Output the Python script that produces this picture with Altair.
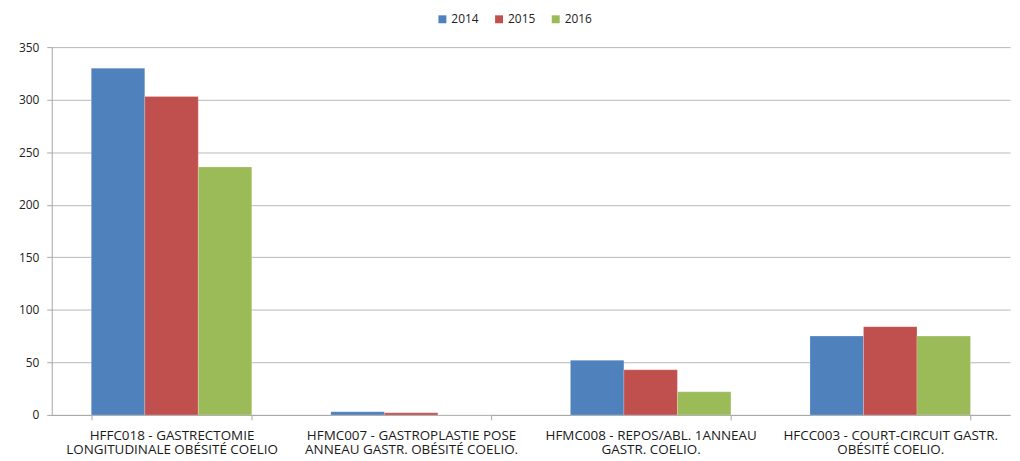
import altair as alt
import pandas as pd

categories = [
    "HFFC018 - GASTRECTOMIE\nLONGITUDINALE OBÉSITÉ COELIO",
    "HFMC007 - GASTROPLASTIE POSE\nANNEAU GASTR. OBÉSITÉ COELIO.",
    "HFMC008 - REPOS/ABL. 1ANNEAU\nGASTR. COELIO.",
    "HFCC003 - COURT-CIRCUIT GASTR.\nOBÉSITÉ COELIO.",
]
years = ["2014", "2015", "2016"]
v2014 = [330, 3, 52, 75]
v2015 = [303, 2, 43, 84]
v2016 = [236, 0, 22, 75]
colors = ["#4F81BD", "#C0504D", "#9BBB59"]

rows = []
for i, c in enumerate(categories):
    for y, vals in zip(years, [v2014, v2015, v2016]):
        rows.append({"cat": c, "year": y, "value": vals[i]})
df = pd.DataFrame(rows)

FONT = "Open Sans"

chart = alt.Chart(df).mark_bar(stroke="#ffffff", strokeOpacity=0.35, strokeWidth=0.6).encode(
    x=alt.X("cat:N", sort=categories, title=None,
            scale=alt.Scale(paddingInner=0.33, paddingOuter=0.165),
            axis=alt.Axis(labelAngle=0, labelExpr="split(datum.label, '\\n')",
                          labelFont=FONT, labelFontSize=13.5, labelColor="#1a1a1a",
                          labelLineHeight=14, labelPadding=9, labelLimit=0,
                          labelOverlap=False,
                          tickBand="extent", tickColor="#a6a6a6", tickSize=5,
                          domainColor="#a6a6a6", grid=False)),
    xOffset=alt.XOffset("year:N", sort=years),
    y=alt.Y("value:Q", title=None,
            scale=alt.Scale(domain=[0, 350], nice=False),
            axis=alt.Axis(values=[0, 50, 100, 150, 200, 250, 300, 350],
                          labelFont=FONT, labelFontSize=12, labelColor="#222222",
                          labelPadding=8, tickColor="#a6a6a6", tickSize=5,
                          domainColor="#a6a6a6", gridColor="#b8b8b8")),
    color=alt.Color("year:N", sort=years,
                    scale=alt.Scale(domain=years, range=colors),
                    legend=alt.Legend(title=None, orient="none", direction="horizontal",
                                      legendX=387, legendY=-34,
                                      symbolType="square", symbolSize=64,
                                      symbolStrokeWidth=0,
                                      labelFont=FONT, labelFontSize=12,
                                      labelColor="#222222", columnPadding=14,
                                      labelOffset=3)),
).properties(
    width=964, height=370,
    autosize=alt.AutoSizeParams(type="none"),
    padding={"left": 44, "top": 38, "right": 2, "bottom": 45},
).configure_view(stroke=None)

chart.save("out.html", embed_options={"renderer": "svg", "actions": False})
